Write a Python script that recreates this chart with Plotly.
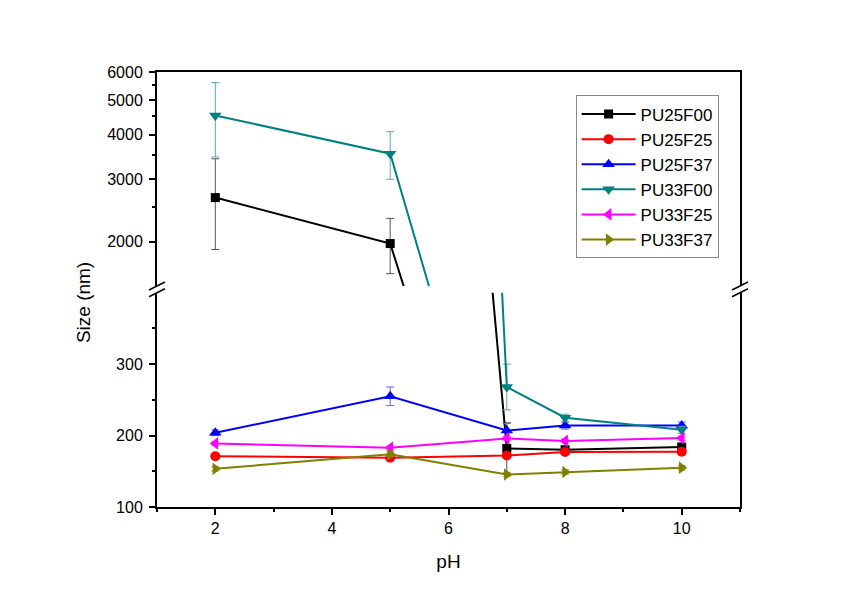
import plotly.graph_objects as go

# ---- data ----
ph = [2, 5, 7, 8, 10]

names = ["PU25F00", "PU25F25", "PU25F37", "PU33F00", "PU33F25", "PU33F37"]

pu25f00 = [2660, 1975, 182, 180, 184]
pu25f00_err = [760, 350, 36, 4, 4]

pu25f25 = [171, 169, 172, 177, 177.5]
pu25f25_err = [3, 3, 3, 3, 3]

pu25f37 = [204, 255, 207, 214, 214]
pu25f37_err = [4, 13, 10, 5, 5]

pu33f00 = [4530, 3535, 268, 225, 208]
pu33f00_err = [1070, 540, 32, 5, 5]

pu33f25 = [189, 183, 196, 192.5, 196.5]
pu33f25_err = [3, 3, 3, 3, 3]

pu33f37 = [153.5, 174, 145.5, 149, 155]
pu33f37_err = [3, 3, 3, 3, 3]

series = [pu25f00, pu25f25, pu25f37, pu33f00, pu33f25, pu33f37]
errors = [pu25f00_err, pu25f25_err, pu25f37_err, pu33f00_err, pu33f25_err, pu33f37_err]

colors = ["#000000", "#ff0000", "#0000ff", "#008080", "#ff00ff", "#808000"]
err_colors = ["#555555", "#ff6666", "#6666ff", "#5aa8a8", "#ff66ff", "#a0a040"]
symbols = ["square", "circle", "triangle-up", "triangle-down", "triangle-left", "triangle-right"]
sizes = [9, 10, 11, 11, 11, 11]

lower_ticks = [100, 200, 300]
lower_minor = [150, 250, 350]
upper_ticks = [2000, 3000, 4000, 5000, 6000]
upper_minor = [2500, 3500, 4500, 5500]
x_ticks = [2, 4, 6, 8, 10]
x_minor = [1, 3, 5, 7, 9, 11]

FONT = "Liberation Sans, Arial, sans-serif"

fig = go.Figure()

# lower panel (linear 100-400)
for n, s, e, c, ec, sym, sz in zip(names, series, errors, colors, err_colors, symbols, sizes):
    fig.add_trace(go.Scatter(
        x=ph, y=s, name=n, mode="lines+markers",
        line=dict(color=c, width=2),
        marker=dict(symbol=sym, size=sz, color=c),
        error_y=dict(type="data", array=e, color=ec, thickness=1, width=4),
        xaxis="x", yaxis="y", showlegend=True,
    ))

# upper panel (log 1500-6000)
for n, s, e, c, ec, sym, sz in zip(names, series, errors, colors, err_colors, symbols, sizes):
    fig.add_trace(go.Scatter(
        x=ph, y=s, name=n, mode="lines+markers",
        line=dict(color=c, width=2),
        marker=dict(symbol=sym, size=sz, color=c),
        error_y=dict(type="data", array=e, color=ec, thickness=1, width=4),
        xaxis="x2", yaxis="y2", showlegend=False,
    ))

lo_top = 0.4926
up_bot = 0.508

axis_common = dict(
    showline=True, linecolor="black", linewidth=2,
    showgrid=False, zeroline=False,
    ticks="outside", ticklen=6, tickwidth=1.5, tickcolor="black",
    tickfont=dict(family=FONT, size=16, color="black"),
)

fig.update_layout(
    width=847, height=602,
    margin=dict(l=157, r=107, t=72, b=95),
    paper_bgcolor="white", plot_bgcolor="white",
    font=dict(family=FONT, color="black"),
    xaxis=dict(
        **axis_common, range=[1, 11], anchor="y", domain=[0, 1],
        tickmode="array", tickvals=x_ticks,
        minor=dict(tickvals=x_minor, ticks="outside", ticklen=3, tickcolor="black"),
        title=dict(text="pH", font=dict(family=FONT, size=19), standoff=18),
    ),
    xaxis2=dict(
        range=[1, 11], anchor="y2", matches="x", side="top",
        showline=True, linecolor="black", linewidth=2,
        showgrid=False, zeroline=False, ticks="", showticklabels=False,
    ),
    yaxis=dict(
        **axis_common, range=[100, 400], domain=[0, lo_top], anchor="x",
        mirror=True, tickmode="array", tickvals=lower_ticks, ticklabelstandoff=3,
        minor=dict(tickvals=lower_minor, ticks="outside", ticklen=3, tickcolor="black"),
    ),
    yaxis2=dict(
        **axis_common, type="log", range=[3.1761, 3.7782], domain=[up_bot, 1], anchor="x2",
        mirror=True, tickmode="array", tickvals=upper_ticks, ticklabelstandoff=3,
        ticktext=[str(v) for v in upper_ticks],
        minor=dict(tickvals=upper_minor, ticks="outside", ticklen=3, tickcolor="black"),
    ),
    legend=dict(
        x=0.718, y=0.946, xanchor="left", yanchor="top",
        bgcolor="white", bordercolor="#888888", borderwidth=1,
        font=dict(family=FONT, size=17, color="black"),
        tracegroupgap=0, itemwidth=54,
    ),
)

fig.add_annotation(
    text="Size (nm)", textangle=-90, showarrow=False,
    xref="paper", yref="paper", x=-0.125, y=0.469,
    xanchor="center", yanchor="middle",
    font=dict(family=FONT, size=19, color="black"),
)

# axis-break marks ("//") on left and right axes
dx = 0.0137
dy = 0.0092
for xb in (0, 1):
    for yb in (lo_top, up_bot):
        fig.add_shape(type="line", xref="paper", yref="paper",
                      x0=xb - dx, y0=yb - dy, x1=xb + dx, y1=yb + dy,
                      line=dict(color="black", width=1.5))

fig.write_html("out.html")
